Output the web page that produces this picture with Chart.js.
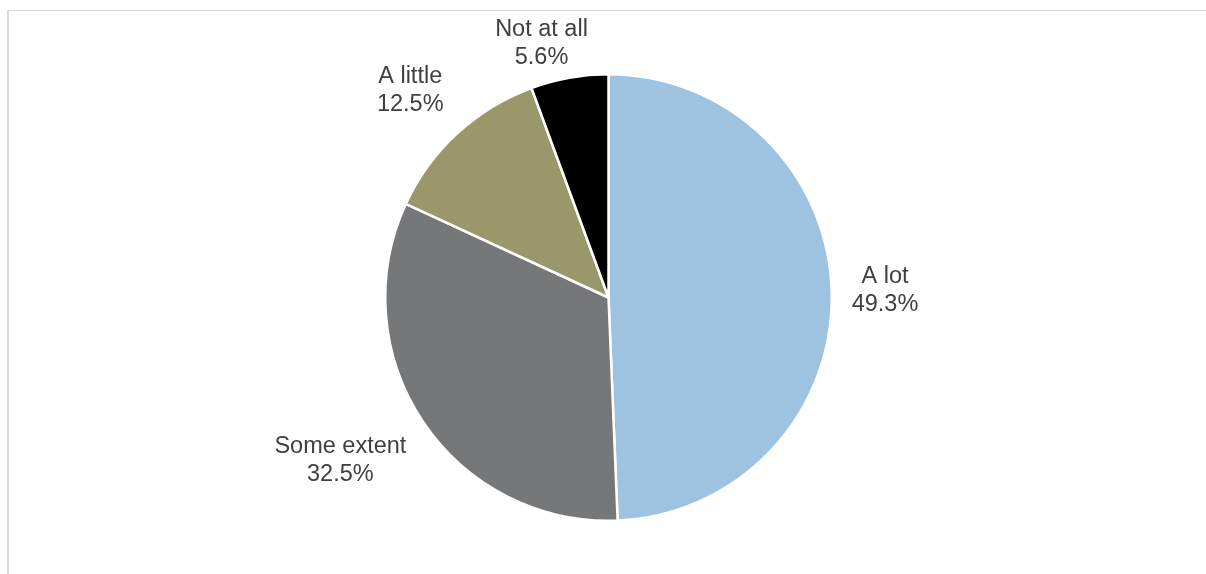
<!DOCTYPE html>
<html>
<head>
<meta charset="utf-8">
<style>
  html, body { margin: 0; padding: 0; background: #ffffff; overflow: hidden; }
  #wrap { position: relative; width: 1206px; height: 574px; }
  #frame {
    position: absolute; left: 7px; top: 10px; width: 1300px; height: 700px;
    border-left: 2px solid #d9d9d9; border-top: 1px solid #d9d9d9; box-sizing: border-box;
  }
  canvas { position: absolute; left: 0; top: 0; }
</style>
<script src="https://cdn.jsdelivr.net/npm/chart.js@4/dist/chart.umd.min.js"></script>
</head>
<body>
<div id="wrap">
  <div id="frame"></div>
  <canvas id="c" width="1206" height="574"></canvas>
</div>
<script>
// Share of responses, clockwise from 12 o'clock
const categories = ['A lot', 'Some extent', 'A little', 'Not at all'];
const shares = [49.3, 32.5, 12.5, 5.6];
const sliceColors = ['#9dc3e0', '#767779', '#9a976b', '#000000'];

const LABEL_FONT = '23.5px "Liberation Sans", Arial, sans-serif';
const LINE_H = 28;
const LABEL_GAP = 20;
const TOP_LIMIT = 16;

// Category name + value drawn just outside each slice: the text box's
// inner corner sits on the slice bisector, a little beyond the rim
const outsideLabels = {
  id: 'outsideLabels',
  afterDatasetsDraw(chart) {
    const ctx = chart.ctx;
    const meta = chart.getDatasetMeta(0);
    const ds = chart.data.datasets[0];
    const clamp = v => Math.max(-1, Math.min(1, v));
    ctx.save();
    ctx.font = LABEL_FONT;
    ctx.fillStyle = '#404040';
    ctx.textAlign = 'center';
    ctx.textBaseline = 'middle';
    meta.data.forEach((arc, i) => {
      const p = arc.getProps(['x', 'y', 'startAngle', 'endAngle', 'outerRadius'], true);
      const mid = (p.startAngle + p.endAngle) / 2;
      const c = Math.cos(mid), s = Math.sin(mid);
      const lines = [chart.data.labels[i], ds.data[i].toFixed(1) + '%'];
      const hw = Math.max(...lines.map(t => ctx.measureText(t).width)) / 2;
      const hh = LINE_H * lines.length / 2;
      const r = p.outerRadius + LABEL_GAP;
      const bx = p.x + r * c + hw * clamp(c * 3);
      let by = p.y + r * s + hh * clamp(s * 3);
      if (by - hh < TOP_LIMIT) by = TOP_LIMIT + hh;
      lines.forEach((t, j) => {
        ctx.fillText(t, bx, by - hh + LINE_H * (j + 0.5));
      });
    });
    ctx.restore();
  }
};

new Chart(document.getElementById('c'), {
  type: 'pie',
  data: {
    labels: categories,
    datasets: [{
      data: shares,
      backgroundColor: sliceColors,
      borderColor: '#ffffff',
      borderWidth: 2.5
    }]
  },
  options: {
    responsive: false,
    animation: false,
    layout: { padding: { left: 384, right: 373, top: 72, bottom: 51 } },
    plugins: {
      legend: { display: false },
      tooltip: { enabled: false }
    }
  },
  plugins: [outsideLabels]
});
</script>
</body>
</html>
